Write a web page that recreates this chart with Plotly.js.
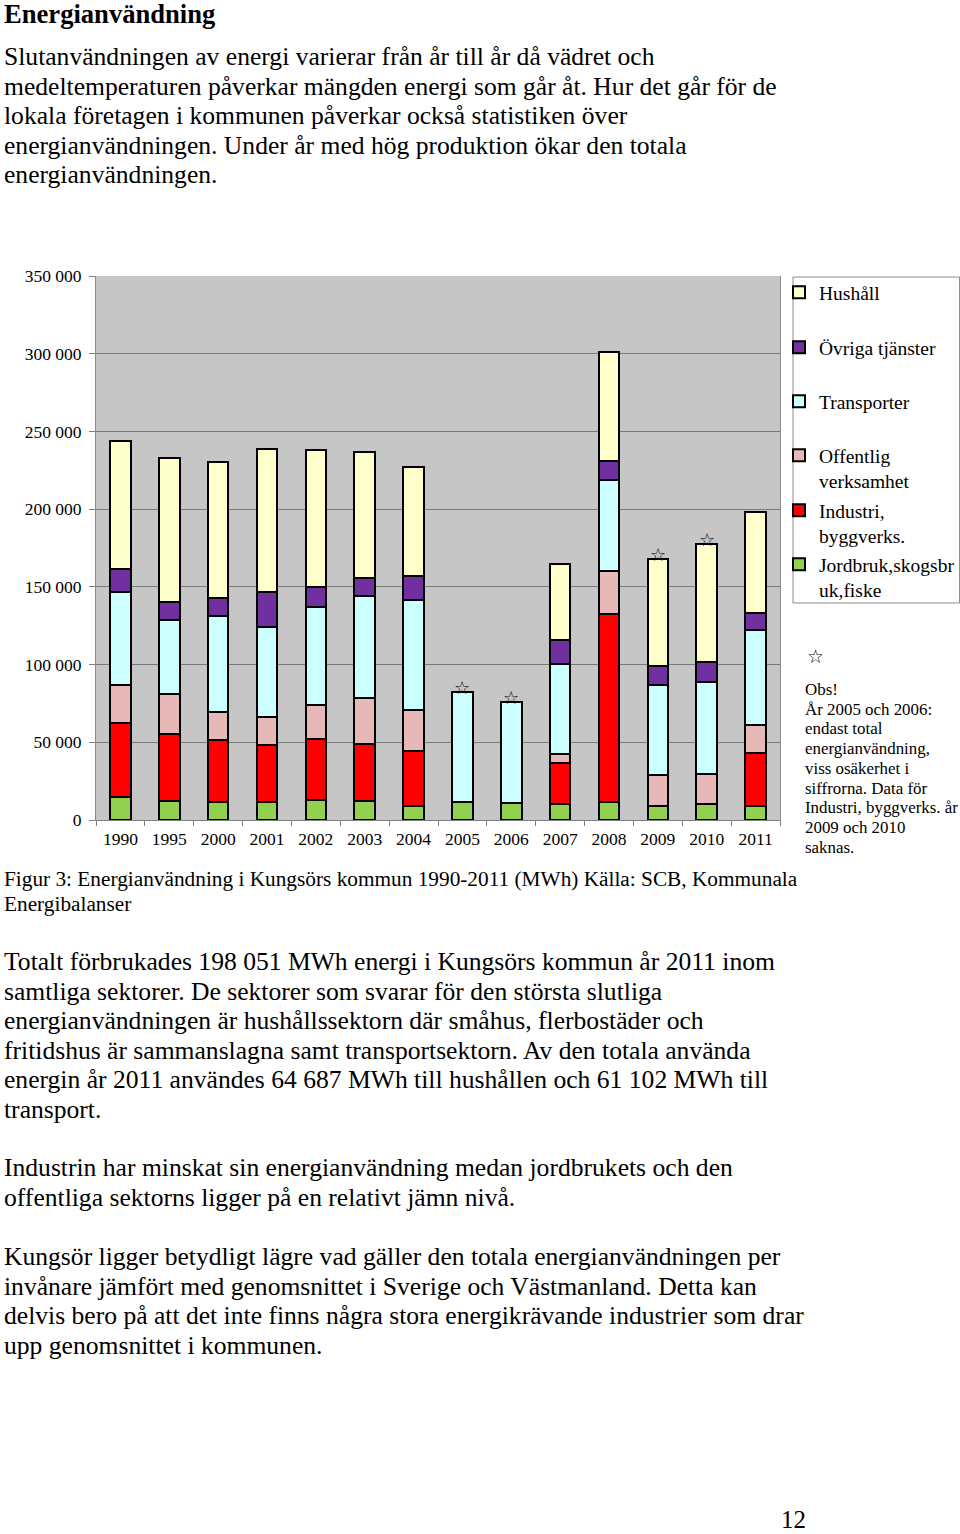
<!DOCTYPE html>
<html>
<head>
<meta charset="utf-8">
<script src="https://cdn.plot.ly/plotly-3.0.1.min.js"></script>
<style>
  html, body { margin:0; padding:0; background:#fff; }
  body { width:960px; height:1534px; position:relative; overflow:hidden; font-family:"Liberation Serif", "Times New Roman", serif; color:#000; }
  .t { position:absolute; left:4px; white-space:nowrap; }
  .p { font-size:25.6px; line-height:29.5px; }
</style>
</head>
<body>
<div class="t" style="top:-2px;font-size:26.6px;font-weight:bold;line-height:32px;">Energianvändning</div>
<div class="t p" style="top:42px;">Slutanvändningen av energi varierar från år till år då vädret och<br>medeltemperaturen påverkar mängden energi som går åt. Hur det går för de<br>lokala företagen i kommunen påverkar också statistiken över<br>energianvändningen. Under år med hög produktion ökar den totala<br>energianvändningen.</div>

<div id="chart" style="position:absolute;left:0;top:250px;width:960px;height:630px;"></div>

<div class="t" style="left:807px;top:644px;font-size:19px;line-height:24px;font-family:'DejaVu Sans';font-weight:bold;">☆</div>
<div class="t" style="left:805px;top:680px;font-size:16.9px;line-height:19.7px;">Obs!<br>År 2005 och 2006:<br>endast total<br>energianvändning,<br>viss osäkerhet i<br>siffrorna. Data för<br>Industri, byggverks. år<br>2009 och 2010<br>saknas.</div>

<div class="t" style="top:867px;font-size:21.3px;line-height:25px;">Figur 3: Energianvändning i Kungsörs kommun 1990-2011 (MWh) Källa: SCB, Kommunala<br>Energibalanser</div>

<div class="t p" style="top:947px;">Totalt förbrukades 198 051 MWh energi i Kungsörs kommun år 2011 inom<br>samtliga sektorer. De sektorer som svarar för den största slutliga<br>energianvändningen är hushållssektorn där småhus, flerbostäder och<br>fritidshus är sammanslagna samt transportsektorn. Av den totala använda<br>energin år 2011 användes 64 687 MWh till hushållen och 61 102 MWh till<br>transport.</div>
<div class="t p" style="top:1153px;">Industrin har minskat sin energianvändning medan jordbrukets och den<br>offentliga sektorns ligger på en relativt jämn nivå.</div>
<div class="t p" style="top:1242px;">Kungsör ligger betydligt lägre vad gäller den totala energianvändningen per<br>invånare jämfört med genomsnittet i Sverige och Västmanland. Detta kan<br>delvis bero på att det inte finns några stora energikrävande industrier som drar<br>upp genomsnittet i kommunen.</div>
<div class="t" style="left:781px;top:1505px;font-size:25px;line-height:30px;">12</div>

<script>
const years = ['1990','1995','2000','2001','2002','2003','2004','2005','2006','2007','2008','2009','2010','2011'];
const jordbruk    = [14600, 12000, 11600, 11800, 12900, 12200,  9200, 11600, 11200, 10300,  11600,  9200, 10100,  9000];
const industri    = [48000, 43300, 40100, 36300, 39300, 36700, 35400,  null,  null, 26200, 120800,  null,  null, 34300];
const offentlig   = [24500, 25700, 17600, 18200, 21700, 29400, 26000,  null,  null,  6000,  27500, 19700, 19500, 17600];
const transporter = [59800, 48000, 61800, 57700, 63100, 66100, 71200, 71000, 65000, 57900,  59000, 57900, 59400, 61102];
const ovriga      = [14800, 11200, 11600, 22700, 13100, 11400, 15000,  null,  null, 15400,  12000, 12400, 12900, 11400];
const hushall     = [82200, 92700, 87700, 91800, 87900, 80900, 70100,  null,  null, 48900,  69900, 68900, 75500, 64687];
const notedYears  = ['2005','2006','2009','2010'];

const seriesNames = ['Jordbruk,skogsbr<br>uk,fiske', 'Industri,<br>byggverks.', 'Offentlig<br>verksamhet', 'Transporter', 'Övriga tjänster', 'Hushåll'];
const seriesData  = [jordbruk, industri, offentlig, transporter, ovriga, hushall];
const seriesColors = ['#92D050', '#FF0000', '#E6B9B8', '#CCFFFF', '#7030A0', '#FFFFCC'];
const legendIds = ['legend6', 'legend5', 'legend4', 'legend3', 'legend2', 'legend'];

const traces = seriesData.map((vals, i) => ({
  type: 'bar',
  name: seriesNames[i],
  x: years,
  y: vals,
  legend: legendIds[i],
  marker: { color: seriesColors[i], line: { color: '#000', width: 2 } },
  hoverinfo: 'x+y+name'
}));

const totals = years.map((_, j) => seriesData.reduce((s, arr) => s + (arr[j] || 0), 0));
// annotation x on a category axis is given as the category index
const starAnn = notedYears.map(yr => {
  const j = years.indexOf(yr);
  return { x: j, y: totals[j], xref: 'x', yref: 'y', text: '<b>☆</b>', showarrow: false,
           yanchor: 'bottom', yshift: -8, font: { family: 'DejaVu Sans', size: 18, color: '#000' } };
});

// chart geometry inside the chart div (div top = 250 px on the page)
const divTop = 250;
const plotL = 96, plotW = 684, plotT = 26, plotH = 544;
const px2x = px => (px - plotL) / plotW;
const py2y = py => (plotT + plotH - (py - divTop)) / plotH;   // py in page pixels

// legend item first-line centres (page px)
const legendCentres = { legend: 292, legend2: 347, legend3: 401, legend4: 455, legend5: 510, legend6: 564 };
const legFont = { family: 'Liberation Serif', size: 19.5, color: '#000' };
const layout = {
  width: 960, height: 630,
  margin: { l: plotL, r: 960 - plotL - plotW, t: plotT, b: 630 - plotT - plotH, autoexpand: false },
  paper_bgcolor: 'rgba(0,0,0,0)',
  plot_bgcolor: '#C6C6C6',
  barmode: 'stack',
  bargap: 0.58,
  separators: ', ',
  showlegend: true,
  font: { family: 'Liberation Serif', size: 17, color: '#000' },
  xaxis: {
    type: 'category', showgrid: false, showline: true, linecolor: '#7f7f7f', linewidth: 1,
    ticks: 'outside', tickson: 'boundaries', ticklen: 5, tickcolor: '#7f7f7f', automargin: false,
    tickfont: { family: 'Liberation Serif', size: 17.5, color: '#000' }, ticklabelstandoff: 3
  },
  yaxis: {
    range: [0, 350000], dtick: 50000, tickformat: ',d', showgrid: true, gridcolor: '#7a7a7a', gridwidth: 1,
    showline: true, mirror: true, linecolor: '#8a8a8a', linewidth: 1, zeroline: false, automargin: false,
    ticks: 'outside', ticklen: 6, tickcolor: '#7f7f7f',
    tickfont: { family: 'Liberation Serif', size: 17.5, color: '#000' }, ticklabelstandoff: 4
  },
  annotations: starAnn,
  shapes: [{
    type: 'rect', xref: 'paper', yref: 'paper',
    x0: px2x(793), x1: px2x(959.5), y0: py2y(277), y1: py2y(603),
    line: { color: '#8c8c8c', width: 1 }, fillcolor: 'rgba(0,0,0,0)'
  }]
};
Object.keys(legendCentres).forEach(id => {
  layout[id] = {
    x: px2x(779), xanchor: 'left',
    y: py2y(legendCentres[id] - 19), yanchor: 'top',
    bgcolor: 'rgba(0,0,0,0)', borderwidth: 0,
    font: legFont, valign: 'top', itemwidth: 30, tracegroupgap: 0
  };
});

Plotly.newPlot('chart', traces, layout, { displayModeBar: false, staticPlot: true });
</script>
</body>
</html>
